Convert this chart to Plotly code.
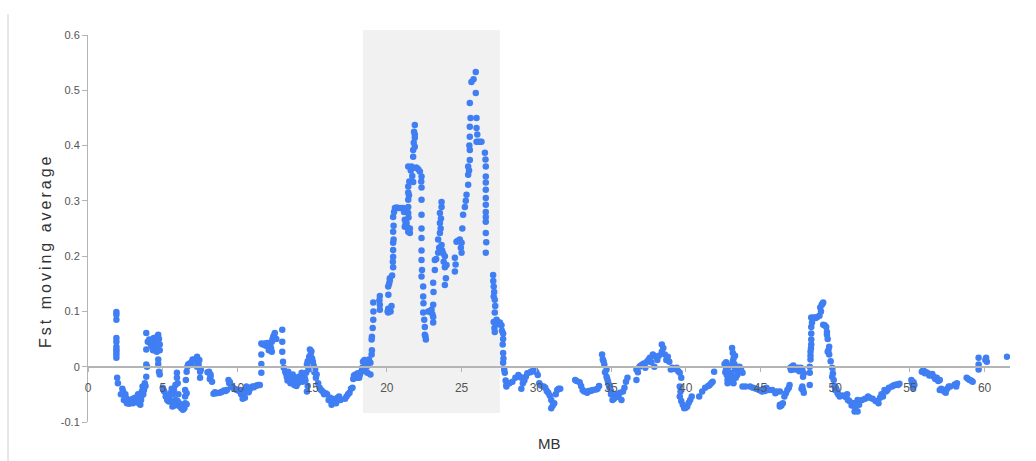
import plotly.graph_objects as go

# Fst moving average along the chromosome (position in MB, Fst value)
seg_0_10 = [
    (1.9, 0.099), (1.9, 0.094), (1.9, 0.085), (1.9, 0.052), (1.9, 0.045), (1.9, 0.036),
    (1.9, 0.031), (1.9, 0.027), (1.9, 0.022), (1.9, 0.016), (1.95, -0.02),
    (2.0, -0.03), (2.2, -0.05), (2.3, -0.04), (2.35, -0.045), (2.4, -0.06), (2.5, -0.05),
    (2.5, -0.055), (2.6, -0.066), (2.6, -0.058), (2.7, -0.06), (2.75, -0.067), (2.8, -0.064),
    (2.9, -0.062), (3.0, -0.066), (3.0, -0.058), (3.1, -0.06), (3.15, -0.056), (3.2, -0.064),
    (3.3, -0.06), (3.35, -0.05), (3.4, -0.066), (3.5, -0.069), (3.5, -0.054), (3.55, -0.06),
    (3.6, -0.045), (3.6, -0.052), (3.65, -0.036), (3.7, -0.05), (3.7, -0.04), (3.75, -0.042),
    (3.8, -0.03), (3.85, -0.035), (3.9, -0.018), (3.9, 0.004), (3.95, 0.0), (3.9, 0.031),
    (3.9, 0.061), (4.0, 0.045),
    (4.1, 0.049), (4.2, 0.04), (4.25, 0.046), (4.3, 0.035), (4.35, 0.03), (4.4, 0.052),
    (4.45, 0.042), (4.5, 0.034), (4.5, 0.05), (4.55, 0.04), (4.6, 0.043), (4.65, 0.055),
    (4.7, 0.058), (4.7, 0.049), (4.75, 0.05), (4.8, 0.04), (4.8, 0.03), (4.6, 0.027),
    (4.7, 0.013), (4.7, 0.005), (4.75, -0.009), (4.8, -0.014),
    (5.0, -0.038), (5.05, -0.042), (5.1, -0.045), (5.2, -0.054), (5.3, -0.06), (5.4, -0.063),
    (5.45, -0.058), (5.5, -0.048), (5.6, -0.063), (5.6, -0.04), (5.65, -0.072), (5.7, -0.05),
    (5.75, -0.042), (5.8, -0.07), (5.85, -0.033), (5.85, -0.06), (5.95, -0.02), (5.95, -0.011),
    (6.0, -0.03), (6.0, -0.062), (6.05, -0.05), (6.1, -0.066), (6.15, -0.072), (6.25, -0.075),
    (6.3, -0.07), (6.35, -0.078), (6.4, -0.07), (6.45, -0.075), (6.5, -0.066), (6.5, -0.054),
    (6.5, -0.042), (6.55, -0.024), (6.6, -0.009), (6.6, -0.068), (6.6, -0.048), (6.65, 0.0),
    (6.7, 0.004), (6.8, 0.006), (6.9, 0.005), (6.95, 0.009), (7.0, 0.013), (7.05, 0.011),
    (7.15, 0.013), (7.2, 0.01), (7.25, 0.015), (7.3, 0.018), (7.3, 0.0), (7.35, 0.008),
    (7.4, 0.004), (7.45, 0.012), (7.5, -0.009), (7.5, -0.02), (7.55, -0.005),
    (8.0, -0.01), (8.1, -0.009), (8.15, -0.022), (8.2, -0.014), (8.2, -0.018), (8.3, -0.027),
    (8.4, -0.049), (8.5, -0.046), (8.6, -0.048), (8.8, -0.047), (8.9, -0.046), (9.0, -0.045),
    (9.1, -0.043), (9.2, -0.044), (9.3, -0.042), (9.4, -0.024), (9.45, -0.03), (9.5, -0.028),
    (9.6, -0.036), (9.7, -0.038), (9.8, -0.04), (9.9, -0.041), (10.0, -0.042),
]

seg_10_19 = [
    (10.1, -0.044), (10.2, -0.042), (10.25, -0.05), (10.3, -0.048), (10.35, -0.058),
    (10.4, -0.054), (10.45, -0.05), (10.5, -0.045), (10.5, -0.056), (10.55, -0.04),
    (10.6, -0.036), (10.7, -0.04), (10.75, -0.046), (10.8, -0.042), (10.9, -0.038),
    (11.0, -0.036), (11.1, -0.037), (11.2, -0.035), (11.3, -0.034), (11.4, -0.033),
    (11.5, -0.033),
    (11.6, -0.011), (11.6, 0.005), (11.6, 0.022), (11.6, 0.042), (11.7, 0.04), (11.8, 0.042),
    (11.9, 0.038), (12.0, 0.043), (12.05, 0.036), (12.1, 0.03), (12.15, 0.04), (12.2, 0.038),
    (12.3, 0.045), (12.35, 0.05), (12.4, 0.054), (12.45, 0.057), (12.5, 0.061), (12.6, 0.05),
    (12.3, 0.027), (12.25, 0.033),
    (13.0, 0.067), (13.0, 0.045), (13.0, 0.027), (13.05, 0.009), (13.1, -0.002),
    (13.2, -0.009), (13.25, -0.012), (13.3, -0.018), (13.35, -0.025), (13.4, -0.009),
    (13.45, -0.015), (13.5, -0.024), (13.55, -0.03), (13.6, -0.02), (13.65, -0.028),
    (13.7, -0.014), (13.75, -0.02), (13.8, -0.033), (13.85, -0.022), (13.9, -0.028),
    (13.95, -0.035), (14.0, -0.024), (14.05, -0.03), (14.1, -0.018), (14.2, -0.02),
    (14.3, -0.011), (14.35, -0.027), (14.4, -0.015), (14.5, -0.02), (14.55, -0.025),
    (14.6, -0.011), (14.65, 0.004), (14.7, 0.01), (14.75, -0.005), (14.8, 0.018),
    (14.85, 0.031), (14.9, 0.022), (14.95, 0.028), (15.0, 0.015), (15.05, 0.009),
    (15.1, 0.002), (15.15, -0.01), (15.2, -0.005), (15.25, -0.02), (15.3, -0.014),
    (14.65, -0.045), (14.7, -0.035),
    (15.4, -0.03), (15.5, -0.038), (15.6, -0.042), (15.7, -0.045), (15.8, -0.05),
    (15.9, -0.048), (16.0, -0.05), (16.1, -0.06), (16.2, -0.056), (16.25, -0.062),
    (16.3, -0.069), (16.35, -0.058), (16.4, -0.064), (16.5, -0.06), (16.6, -0.066),
    (16.7, -0.056), (16.8, -0.054), (16.9, -0.06),
    (17.2, -0.058), (17.3, -0.054), (17.4, -0.05), (17.5, -0.047), (17.6, -0.04),
    (17.7, -0.038), (17.75, -0.022), (17.8, -0.016), (17.9, -0.014), (18.0, -0.02),
    (18.05, -0.012), (18.1, -0.016), (18.15, -0.02), (18.2, -0.014), (18.3, -0.008),
    (18.35, -0.002), (18.4, 0.009), (18.45, -0.002), (18.5, 0.012), (18.55, -0.008),
    (18.6, 0.004), (18.65, 0.0), (18.7, -0.011), (18.75, 0.008), (18.8, 0.013),
    (18.9, -0.014), (18.9, 0.007),
]

seg_peak = [
    (18.98, 0.022), (19.0, 0.03), (18.98, 0.049), (19.0, 0.054), (19.05, 0.07),
    (19.09, 0.085), (19.1, 0.1), (19.09, 0.116),
    (19.5, 0.12), (19.53, 0.128), (19.53, 0.112), (19.53, 0.103),
    (20.05, 0.1), (20.09, 0.098), (20.09, 0.105), (20.1, 0.13), (20.09, 0.145), (20.15, 0.15),
    (20.2, 0.16), (20.2, 0.156), (20.25, 0.1), (20.31, 0.11), (20.35, 0.165), (20.42, 0.18),
    (20.4, 0.19), (20.42, 0.199), (20.42, 0.211), (20.42, 0.224), (20.45, 0.23),
    (20.42, 0.244), (20.45, 0.255), (20.42, 0.271), (20.48, 0.28), (20.54, 0.287),
    (20.65, 0.288), (20.76, 0.287), (20.9, 0.287), (21.09, 0.287), (21.15, 0.28),
    (21.2, 0.266), (21.2, 0.253), (21.25, 0.258), (21.32, 0.26), (21.32, 0.285),
    (21.38, 0.252), (21.43, 0.244), (21.45, 0.27), (21.43, 0.278), (21.43, 0.289),
    (21.43, 0.302), (21.48, 0.31), (21.43, 0.315), (21.43, 0.326), (21.5, 0.335),
    (21.6, 0.355), (21.43, 0.362), (21.54, 0.242), (21.54, 0.25), (21.65, 0.362),
    (21.7, 0.345), (21.76, 0.334), (21.76, 0.38), (21.76, 0.392), (21.87, 0.398),
    (21.8, 0.405), (21.87, 0.414), (21.87, 0.42), (21.82, 0.425), (21.87, 0.437),
    (21.95, 0.36), (21.99, 0.36), (22.1, 0.357), (22.21, 0.353), (22.32, 0.344),
    (22.3, 0.335), (22.32, 0.324), (22.32, 0.302), (22.32, 0.275), (22.32, 0.25),
    (22.32, 0.233), (22.32, 0.21), (22.32, 0.193), (22.35, 0.175), (22.32, 0.163),
    (22.43, 0.145), (22.43, 0.127), (22.45, 0.115), (22.43, 0.098), (22.5, 0.085),
    (22.54, 0.072), (22.54, 0.058), (22.58, 0.055), (22.61, 0.049),
    (22.77, 0.1), (22.85, 0.1), (22.99, 0.103), (23.05, 0.095), (23.1, 0.09), (23.1, 0.08),
    (23.1, 0.112), (23.12, 0.135), (23.1, 0.152), (23.21, 0.175), (23.21, 0.193),
    (23.3, 0.195), (23.43, 0.206), (23.5, 0.215), (23.43, 0.23), (23.55, 0.242),
    (23.6, 0.25), (23.55, 0.26), (23.62, 0.268), (23.55, 0.278), (23.66, 0.289),
    (23.66, 0.298), (23.66, 0.22), (23.7, 0.21), (23.77, 0.205), (23.88, 0.2), (23.8, 0.19),
    (23.88, 0.18), (23.95, 0.16), (23.88, 0.148), (23.99, 0.184),
    (24.55, 0.197), (24.6, 0.185), (24.55, 0.172), (24.66, 0.226), (24.75, 0.228),
    (24.88, 0.23), (25.0, 0.224), (24.95, 0.215), (25.0, 0.206), (25.05, 0.25),
    (25.1, 0.275), (25.22, 0.289), (25.28, 0.3), (25.33, 0.311), (25.44, 0.329),
    (25.44, 0.347), (25.5, 0.355), (25.44, 0.362), (25.55, 0.374), (25.55, 0.392),
    (25.52, 0.4), (25.55, 0.416), (25.55, 0.434), (25.6, 0.45), (25.55, 0.477),
    (25.66, 0.515), (25.8, 0.52), (25.95, 0.533), (25.95, 0.495), (26.0, 0.45),
    (26.0, 0.432), (26.05, 0.42), (26.0, 0.407), (26.1, 0.407), (26.22, 0.407),
    (26.33, 0.407), (26.56, 0.387), (26.6, 0.375), (26.62, 0.362), (26.62, 0.344),
    (26.62, 0.333), (26.62, 0.32), (26.62, 0.305), (26.62, 0.293), (26.62, 0.28),
    (26.62, 0.271), (26.62, 0.262), (26.62, 0.242), (26.65, 0.225), (26.62, 0.206),
    (27.11, 0.166), (27.12, 0.155), (27.15, 0.145), (27.18, 0.135), (27.15, 0.127),
    (27.22, 0.121), (27.25, 0.11), (27.22, 0.098), (27.15, 0.081), (27.2, 0.07),
    (27.22, 0.063), (27.34, 0.085), (27.4, 0.082), (27.5, 0.077), (27.56, 0.08),
    (27.67, 0.075), (27.7, 0.065), (27.78, 0.06), (27.78, 0.05), (27.75, 0.04),
    (27.78, 0.025), (27.8, 0.015), (27.78, 0.007), (27.85, -0.005), (27.89, -0.011),
    (27.95, -0.025), (28.0, -0.033),
]

seg_28_46 = [
    (28.0, -0.036), (28.2, -0.03), (28.4, -0.027), (28.6, -0.02), (28.8, -0.015),
    (28.9, -0.018), (29.0, -0.02), (29.0, -0.04), (29.1, -0.03), (29.2, -0.025),
    (29.3, -0.018), (29.4, -0.012), (29.6, -0.01), (29.7, -0.008), (29.9, -0.006),
    (30.0, -0.01), (30.1, -0.015), (30.2, -0.03), (30.3, -0.034), (30.5, -0.036),
    (30.6, -0.038), (30.7, -0.044), (30.8, -0.047), (30.9, -0.052), (31.0, -0.06),
    (31.0, -0.075), (31.1, -0.07), (31.2, -0.066), (31.3, -0.05), (31.4, -0.042),
    (31.5, -0.04), (31.6, -0.04),
    (32.6, -0.024), (32.7, -0.026), (32.9, -0.028), (33.0, -0.035), (33.1, -0.042),
    (33.2, -0.045), (33.4, -0.047), (33.5, -0.044), (33.6, -0.044), (33.7, -0.043),
    (33.8, -0.042), (34.0, -0.041), (34.1, -0.04), (34.2, -0.035), (34.4, 0.022),
    (34.45, 0.013), (34.5, 0.01), (34.55, 0.004), (34.6, -0.01), (34.7, -0.005),
    (34.7, -0.018), (34.75, -0.022), (34.8, -0.027), (34.85, -0.032), (34.9, -0.038),
    (35.0, -0.044), (35.0, -0.05), (35.1, -0.06), (35.2, -0.058), (35.3, -0.054),
    (35.4, -0.05), (35.5, -0.055), (35.6, -0.047), (35.7, -0.06), (35.8, -0.045),
    (35.9, -0.038), (36.0, -0.027), (36.1, -0.02),
    (36.7, -0.024), (36.7, -0.005), (36.8, -0.01), (36.9, 0.0), (37.0, 0.002),
    (37.1, 0.004), (37.2, 0.006), (37.3, -0.002), (37.4, 0.009), (37.5, 0.012),
    (37.6, 0.016), (37.7, 0.008), (37.8, 0.022), (37.9, 0.0), (38.0, 0.018), (38.1, 0.012),
    (38.2, 0.02), (38.4, 0.04), (38.4, 0.027), (38.5, 0.034), (38.6, 0.022), (38.7, 0.012),
    (38.8, 0.018), (38.9, 0.009), (39.0, -0.005), (39.1, -0.002), (39.2, -0.004),
    (39.4, -0.002), (39.5, -0.008), (39.6, -0.011), (39.7, -0.02),
    (39.6, -0.036), (39.65, -0.045), (39.6, -0.054), (39.7, -0.062), (39.8, -0.069),
    (39.9, -0.075), (40.0, -0.074), (40.1, -0.072), (40.2, -0.065), (40.3, -0.06),
    (40.4, -0.054), (40.9, -0.054), (41.1, -0.045), (41.3, -0.038), (41.5, -0.035),
    (41.6, -0.033), (41.7, -0.03), (41.8, -0.027), (41.9, -0.009),
    (42.6, 0.005), (42.65, -0.01), (42.7, -0.005), (42.7, 0.008), (42.75, -0.015),
    (42.8, -0.024), (42.8, -0.03), (42.85, 0.0), (42.9, -0.01), (42.95, 0.002),
    (43.0, -0.02), (43.05, -0.012), (43.1, -0.028), (43.1, 0.034), (43.15, 0.025),
    (43.15, 0.01), (43.2, 0.015), (43.2, -0.03), (43.25, 0.005), (43.3, -0.005),
    (43.3, 0.02), (43.35, -0.02), (43.4, 0.0), (43.45, -0.015), (43.5, -0.01),
    (43.55, -0.005), (43.6, 0.0), (43.65, -0.008), (43.7, -0.005), (43.8, -0.011),
    (43.8, -0.036),
    (44.0, -0.036), (44.3, -0.036), (44.5, -0.038), (44.7, -0.04), (44.9, -0.042),
    (45.1, -0.045), (45.2, -0.04), (45.3, -0.044), (45.4, -0.038), (45.6, -0.042),
    (45.8, -0.042), (46.0, -0.048), (46.1, -0.045), (46.3, -0.045),
]

seg_46_62 = [
    (46.3, -0.069), (46.3, -0.072), (46.4, -0.07), (46.5, -0.066), (46.6, -0.054),
    (46.7, -0.048), (46.8, -0.042), (46.9, -0.038), (46.95, -0.033), (47.0, -0.002),
    (47.05, -0.006), (47.1, 0.0), (47.2, 0.002), (47.3, -0.005), (47.4, -0.004),
    (47.5, -0.002), (47.6, -0.008), (47.7, -0.002), (47.8, -0.005), (47.85, -0.018),
    (47.9, -0.012), (47.75, -0.04), (47.8, -0.036), (47.85, -0.042), (47.9, -0.047),
    (48.3, -0.033), (48.3, -0.011), (48.3, 0.0), (48.35, 0.013), (48.35, 0.02),
    (48.35, 0.027), (48.38, 0.033), (48.4, 0.04), (48.4, 0.049), (48.4, 0.06),
    (48.4, 0.072), (48.45, 0.08), (48.4, 0.089), (48.5, 0.088), (48.6, 0.089),
    (48.7, 0.088), (48.8, 0.09), (48.95, 0.092), (49.0, 0.107), (49.05, 0.1),
    (49.1, 0.112), (49.15, 0.114), (49.2, 0.116), (49.2, 0.076), (49.3, 0.075),
    (49.4, 0.072), (49.45, 0.063), (49.45, 0.058), (49.5, 0.05), (49.6, 0.036),
    (49.55, 0.03), (49.5, 0.027), (49.6, 0.022), (49.7, 0.01), (49.8, -0.002),
    (49.85, -0.012), (49.8, -0.018), (49.9, -0.024), (49.95, -0.035), (50.1, -0.042),
    (50.0, -0.042), (50.05, -0.038), (50.15, -0.047), (50.2, -0.05), (50.3, -0.054),
    (50.5, -0.052), (50.7, -0.055), (50.8, -0.05), (50.85, -0.06), (50.95, -0.062),
    (51.1, -0.07), (51.2, -0.066), (51.3, -0.081), (51.35, -0.075), (51.4, -0.065),
    (51.5, -0.081), (51.5, -0.06), (51.6, -0.069), (51.8, -0.06), (52.0, -0.058),
    (52.2, -0.054), (52.3, -0.056), (52.5, -0.058), (52.7, -0.062), (52.9, -0.066),
    (53.0, -0.056), (53.1, -0.05), (53.2, -0.054), (53.3, -0.042), (53.4, -0.045),
    (53.5, -0.042), (53.6, -0.038), (53.8, -0.036), (53.9, -0.034), (54.0, -0.033),
    (54.1, -0.032), (54.2, -0.033), (54.3, -0.031),
    (55.1, -0.024), (55.15, -0.03), (55.2, -0.038), (55.25, -0.028), (55.3, -0.033),
    (55.8, -0.009), (55.9, -0.006), (56.0, -0.012), (56.1, -0.01), (56.2, -0.012),
    (56.3, -0.016), (56.4, -0.015), (56.5, -0.013), (56.6, -0.018), (56.7, -0.022),
    (56.8, -0.02), (56.9, -0.026), (57.0, -0.024), (57.0, -0.042), (57.1, -0.04),
    (57.2, -0.042), (57.3, -0.045), (57.4, -0.047), (57.5, -0.04), (57.6, -0.036),
    (57.7, -0.036), (58.0, -0.032), (58.1, -0.036), (58.15, -0.03),
    (58.8, -0.02), (58.9, -0.022), (59.0, -0.024), (59.1, -0.025), (59.2, -0.027),
    (59.6, -0.005), (59.6, 0.004), (59.6, 0.016), (60.05, 0.012), (60.1, 0.016),
    (60.15, 0.009), (61.5, 0.018),
]

# Highlighted window
window_mb = (18.4, 27.56)

x_ticks = [0, 5, 10, 15, 20, 25, 30, 35, 40, 45, 50, 55, 60]
y_ticks = [-0.1, 0, 0.1, 0.2, 0.3, 0.4, 0.5, 0.6]
y_tick_text = ["-0.1", "0", "0.1", "0.2", "0.3", "0.4", "0.5", "0.6"]

points = seg_0_10 + seg_10_19 + seg_peak + seg_28_46 + seg_46_62
mb = [p[0] for p in points]
fst = [p[1] for p in points]

FONT = "Liberation Sans, Arial, sans-serif"
AXIS_GREY = "#b4b4b4"
Y_MIN, Y_MAX = -0.1, 0.6

fig = go.Figure()
fig.add_trace(go.Scatter(
    x=mb, y=fst, mode="markers",
    marker=dict(size=6.5, color="#3f7ef3", line=dict(width=0)),
    hoverinfo="x+y", showlegend=False,
))

# shaded window behind the points
fig.add_shape(type="rect", xref="x", yref="paper",
              x0=window_mb[0], x1=window_mb[1], y0=0.023, y1=1.013,
              fillcolor="#f1f1f1", line=dict(width=0), layer="below")

# thin frame line at the left edge
fig.add_shape(type="line", xref="paper", yref="paper",
              x0=-80 / 922, x1=-80 / 922, y0=-0.11, y1=1.054,
              line=dict(color="#d0d0d0", width=1))

fig.update_layout(
    width=1036, height=461,
    margin=dict(l=88, r=26, t=35, b=39),
    paper_bgcolor="white", plot_bgcolor="rgba(0,0,0,0)",
    font=dict(family=FONT, color="#555555", size=11),
    xaxis=dict(
        range=[0, 61.7], tickvals=x_ticks, ticktext=[str(v) for v in x_ticks],
        anchor="free", position=(0 - Y_MIN) / (Y_MAX - Y_MIN),
        showline=True, linecolor=AXIS_GREY, linewidth=2,
        ticks="outside", ticklen=4, tickcolor=AXIS_GREY, tickwidth=1,
        ticklabelstandoff=6,
        showgrid=False, zeroline=False,
        tickfont=dict(size=12, color="#555555"),
    ),
    yaxis=dict(
        range=[Y_MIN, Y_MAX], tickvals=y_ticks, ticktext=y_tick_text,
        showline=True, linecolor=AXIS_GREY, linewidth=1,
        ticks="outside", ticklen=5, tickcolor=AXIS_GREY,
        showgrid=False, zeroline=False,
        tickfont=dict(size=11, color="#555555"),
    ),
    annotations=[
        dict(text="MB", xref="paper", yref="paper", x=0.5, y=-11 / 387,
             xanchor="center", yanchor="top", showarrow=False,
             font=dict(size=15, color="#333333", family=FONT)),
        dict(text='<span style="letter-spacing:3px">Fst moving average</span>',
             xref="paper", yref="paper",
             x=-43 / 922, y=(422 - 251) / 387, textangle=-90,
             xanchor="center", yanchor="middle", showarrow=False,
             font=dict(size=16, color="#333333", family=FONT)),
    ],
)

fig.write_html("out.html")
